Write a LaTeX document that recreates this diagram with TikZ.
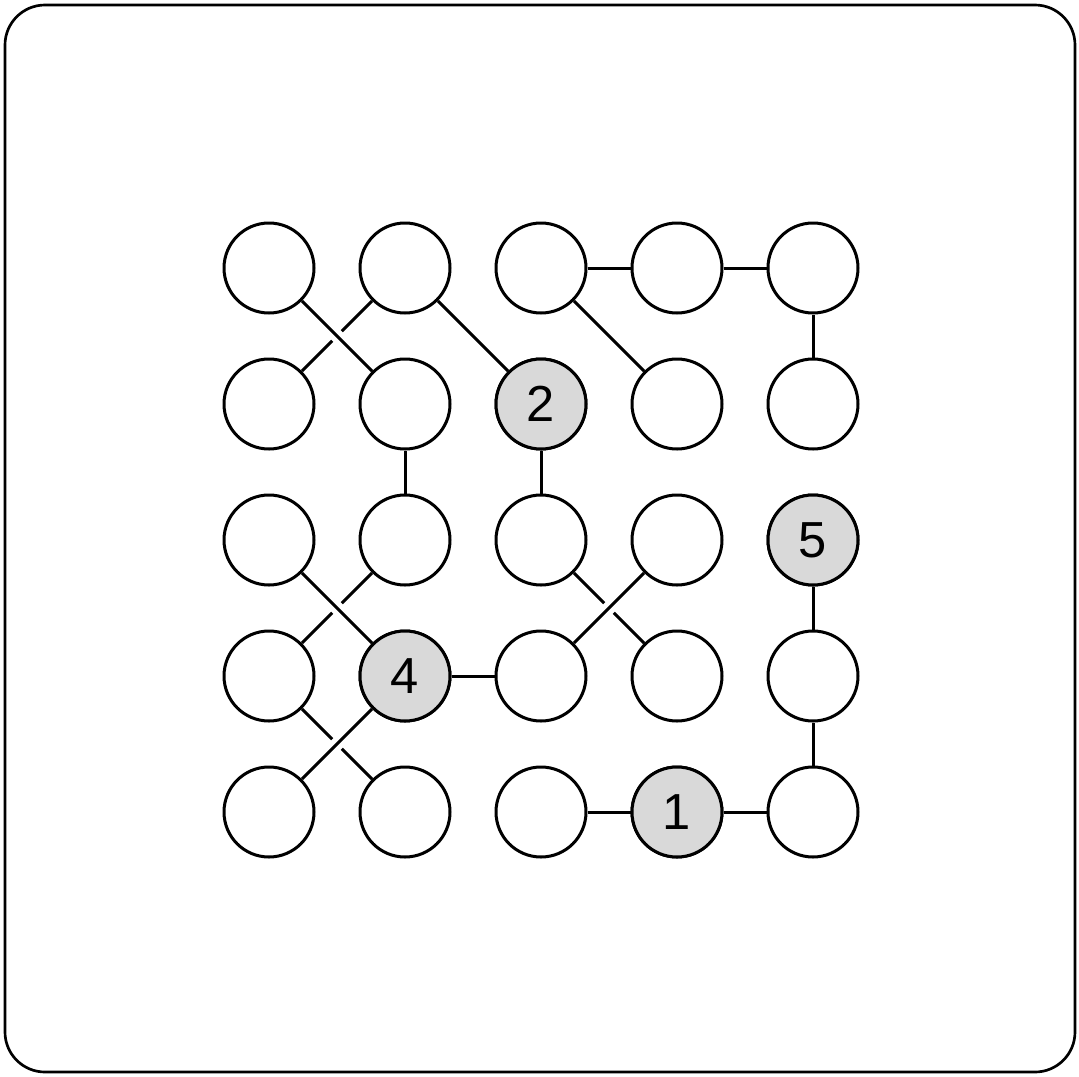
\documentclass[tikz,border=0pt]{standalone}
\usepackage{fontspec}
\setmainfont{Liberation Sans}
\usetikzlibrary{backgrounds}
\begin{document}
\begin{tikzpicture}[x=0.75pt,y=-0.75pt,
  cell/.style={circle,draw=black,line width=2.25pt,fill=white,minimum size=67.5pt,inner sep=0pt,
    font=\fontsize{38}{40}\selectfont},
  given/.style={cell,fill=black!15},
  link/.style={line width=2.25pt},
  over/.style={link,preaction={draw=white,line width=10pt}}]
\useasboundingbox (0,0) rectangle (1079,1076);
\draw[line width=2pt,rounded corners=30pt] (5,5) rectangle (1075,1072);
% nodes n<col><row>
\foreach \c in {1,...,5}{
  \foreach \r in {1,...,5}{
    \pgfmathsetmacro\xx{269+136*(\c-1)}
    \pgfmathsetmacro\yy{268+136*(\r-1)}
    \node[cell] (n\c\r) at (\xx,\yy) {};
  }
}
\node[given] at (n32) {2};
\node[given] at (n24) {4};
\node[given] at (n53) {5};
\node[given] at (n45) {1};
\begin{pgfonlayer}{background}
% plain links
\draw[link] (n31) -- (n41);
\draw[link] (n41) -- (n51);
\draw[link] (n51) -- (n52);
\draw[link] (n21) -- (n32);
\draw[link] (n31) -- (n42);
\draw[link] (n22) -- (n23);
\draw[link] (n32) -- (n33);
\draw[link] (n24) -- (n34);
\draw[link] (n53) -- (n54);
\draw[link] (n54) -- (n55);
\draw[link] (n35) -- (n45);
\draw[link] (n45) -- (n55);
% crossings: under then over
\draw[link] (n21) -- (n12);
\draw[over] (n11) -- (n22);
\draw[link] (n23) -- (n14);
\draw[over] (n13) -- (n24);
\draw[link] (n33) -- (n44);
\draw[over] (n43) -- (n34);
\draw[link] (n14) -- (n25);
\draw[over] (n24) -- (n15);
\end{pgfonlayer}
\end{tikzpicture}
\end{document}
